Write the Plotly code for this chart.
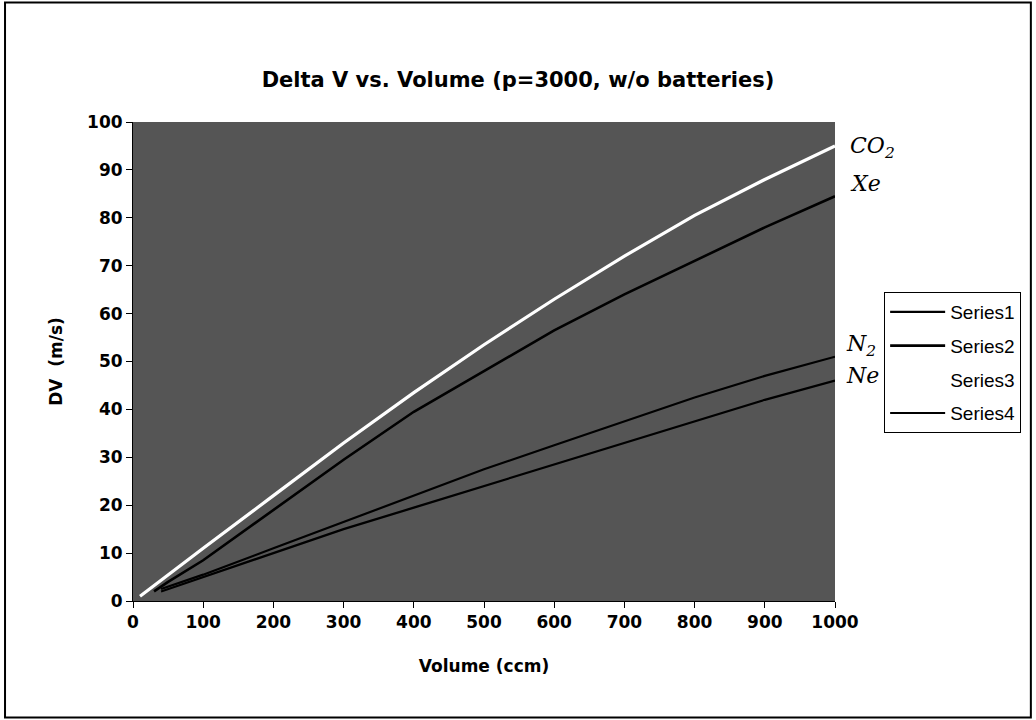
import plotly.graph_objects as go

# Volume (ccm) sample points and delta-V (m/s) for each propellant gas
vol_co2 = [10, 50, 100, 200, 300, 400, 500, 600, 700, 800, 900, 1000]
dv_co2 = [1, 5.5, 11, 22, 33, 43.5, 53.5, 63, 72, 80.5, 88, 95]

vol_xe = [30, 50, 100, 200, 300, 400, 500, 600, 700, 800, 900, 1000]
dv_xe = [2, 4, 8.5, 19, 29.5, 39.5, 48, 56.5, 64, 71, 78, 84.5]

vol_n2 = [40, 100, 200, 300, 400, 500, 600, 700, 800, 900, 1000]
dv_n2 = [2.5, 5.5, 11, 16.5, 22, 27.5, 32.5, 37.5, 42.5, 47, 51]

vol_ne = [40, 100, 200, 300, 400, 500, 600, 700, 800, 900, 1000]
dv_ne = [2, 5, 10, 15, 19.5, 24, 28.5, 33, 37.5, 42, 46]

series_names = ["Series1", "Series2", "Series3", "Series4"]
gas_labels = ["N<sub>2</sub>", "X<i>e</i>", "CO<sub>2</sub>", "N<i>e</i>"]

x_ticks = [0, 100, 200, 300, 400, 500, 600, 700, 800, 900, 1000]
y_ticks = [0, 10, 20, 30, 40, 50, 60, 70, 80, 90, 100]

curves = [
    (vol_n2, dv_n2, "black", 2.2),
    (vol_xe, dv_xe, "black", 2.6),
    (vol_co2, dv_co2, "white", 3.2),
    (vol_ne, dv_ne, "black", 2.2),
]

fig = go.Figure()
for name, (xs, ys, col, w) in zip(series_names, curves):
    fig.add_trace(go.Scatter(x=xs, y=ys, mode="lines", name=name,
                             legendgroup=name,
                             line=dict(color=col, width=w)))

# hand-lettered gas names beside the right-hand ends of the curves
label_offsets = [(9, 11), (13, 13), (13, -2), (9, 5)]
for (xs, ys, _, _), lab, (dx, dy) in zip(curves, gas_labels, label_offsets):
    fig.add_annotation(x=xs[-1], y=ys[-1], xref="x", yref="y", text=lab,
                       showarrow=False, xanchor="left", yanchor="middle",
                       xshift=dx, yshift=dy,
                       font=dict(family="DejaVu Serif", size=22, color="black",
                                 style="italic"))

tick_font = dict(family="DejaVu Sans", size=17, color="black", weight="bold")
title_font = dict(family="DejaVu Sans", size=17, color="black", weight="bold")

fig.update_layout(
    width=1036, height=720,
    margin=dict(l=133, r=201, t=122, b=119),
    paper_bgcolor="white",
    plot_bgcolor="#555555",
    title=dict(text="Delta V vs. Volume (p=3000, w/o batteries)",
               x=0.5, xanchor="center", y=0.889, yanchor="middle",
               font=dict(family="DejaVu Sans", size=21, color="black",
                         weight="bold")),
    xaxis=dict(range=[0, 1000], tickvals=x_ticks,
               showgrid=False, zeroline=False, showline=True, linecolor="black",
               linewidth=1, ticks="outside", ticklen=6, tickcolor="black",
               tickfont=tick_font,
               title=dict(text="Volume (ccm)", standoff=28, font=title_font)),
    yaxis=dict(range=[0, 100], tickvals=y_ticks,
               showgrid=False, zeroline=False, showline=True, linecolor="black",
               linewidth=1, ticks="outside", ticklen=6, tickcolor="black",
               tickfont=tick_font,
               title=dict(text="DV  (m/s)", standoff=20, font=title_font)),
    legend=dict(x=1.07, y=0.645, xanchor="left", yanchor="top",
                bgcolor="white", bordercolor="black", borderwidth=1,
                font=dict(family="Liberation Sans", size=19, color="black"),
                tracegroupgap=6, itemwidth=55),
    shapes=[dict(type="rect", xref="paper", yref="paper",
                 x0=-0.1823, x1=1.279, y0=-0.2432, y1=1.2495,
                 line=dict(color="black", width=2))],
)

fig.write_html("out.html")
